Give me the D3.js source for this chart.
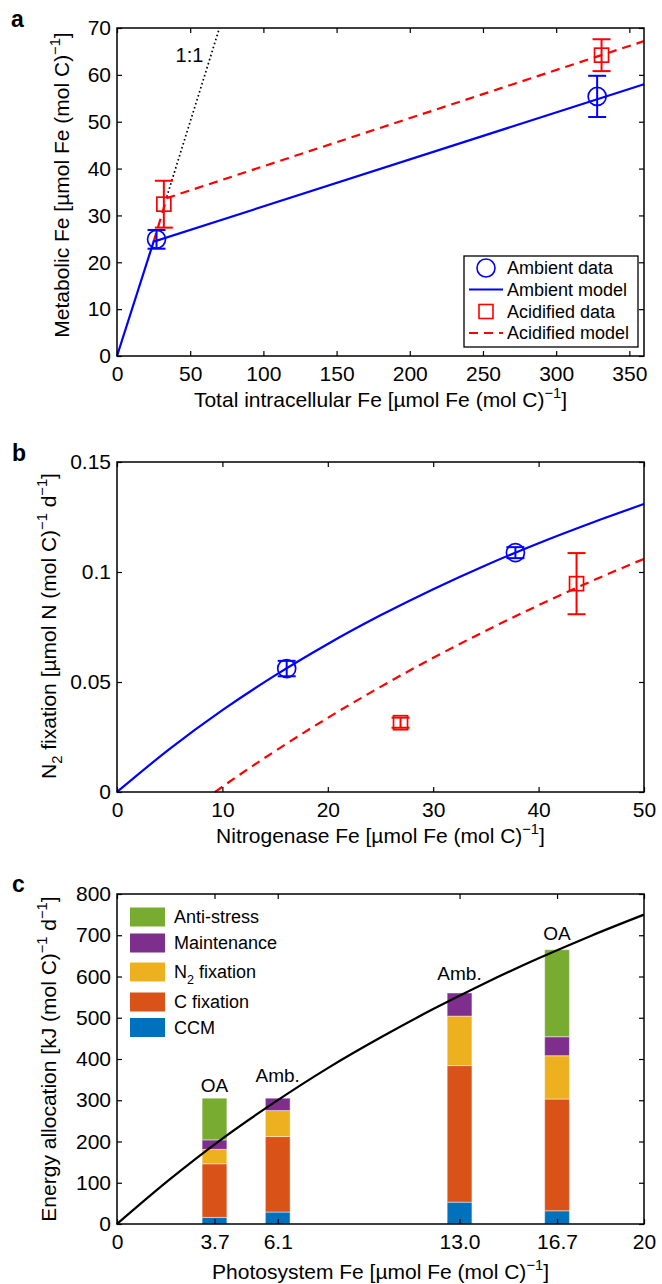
<!DOCTYPE html>
<html lang="en">
<head>
<meta charset="utf-8">
<script src="https://cdn.jsdelivr.net/npm/d3@7"></script>
<style>
  body { margin: 0; background: #fff; }
  svg { display: block; font-family: "Liberation Sans", Arial, sans-serif; }
</style>
</head>
<body>
<script>
// ---- panel a : metabolic vs total Fe ----
const totalFeAmb = [27, 328]
const metabFeAmb = [24.9, 55.4]
const metabFeAmbErr = [2.0, 4.4]
const totalFeAcid = [32, 331]
const metabFeAcid = [32.4, 64.2]
const metabFeAcidErr = [5.0, 3.4]
const ambModelA = [[0, 0], [25, 24.4], [360, 58]]
const acidModelA = [[25, 24.4], [34, 33.7], [360, 67.2]]
const oneToOne = [[34, 34], [70, 70]]

// ---- panel b : N2 fixation vs nitrogenase Fe ----
const nitroFeAmb = [16.1, 37.8]
const n2fixAmb = [0.0561, 0.1088]
const n2fixAmbErr = [0.0035, 0.0025]
const nitroFeAcid = [26.9, 43.6]
const n2fixAcid = [0.0315, 0.0947]
const n2fixAcidErr = [0.0023, 0.0139]
const ambCurveX = [0, 5, 10, 15, 20, 25, 30, 35, 40, 45, 50]
const ambCurveY = [0, 0.0196, 0.0372, 0.053, 0.0673, 0.0803, 0.0922, 0.1031, 0.1131, 0.1223, 0.1309]
const acidCurveX = [9.3, 10, 15, 20, 25, 30, 35, 40, 45, 50]
const acidCurveY = [0, 0.0024, 0.0186, 0.0337, 0.0478, 0.061, 0.0733, 0.0849, 0.0958, 0.106]

// ---- panel c : energy allocation vs photosystem Fe ----
const psFe = [3.7, 6.1, 13.0, 16.7]
const treatment = ['OA', 'Amb.', 'Amb.', 'OA']
const treatmentLabelY = [337, 361, 607, 705]
const ccm = [16, 29, 53, 32]
const cFix = [130, 183, 331, 271]
const n2Fix = [35, 63, 120, 105]
const maint = [23, 30, 56, 46]
const antiStress = [101, 0, 0, 211]
const supplyX = [0, 2, 4, 6, 8, 10, 12, 14, 16, 18, 20]
const supplyY = [0, 108, 207, 296, 378, 452, 521, 585, 644, 699, 750]
const psTicks = [0, 3.7, 6.1, 13.0, 16.7, 20]
const psTickLabels = ['0', '3.7', '6.1', '13.0', '16.7', '20']

const components = ['CCM', 'C fixation', 'N2 fixation', 'Maintenance', 'Anti-stress']
const compColors = ['#0072BD', '#D95319', '#EDB120', '#7E2F8E', '#77AC30']

const W = 662, H = 1284
const left = 117, right = 644
const TICK = 21, LABEL = 21, LEG = 18

const svg = d3.select('body').append('svg')
  .attr('width', W).attr('height', H)
svg.append('rect').attr('width', W).attr('height', H).attr('fill', '#fff')

// text with super/subscripts: parts = [[string, 'sup'|'sub'|null], ...]
function richText(sel, parts, size) {
  let shift = 0
  parts.forEach(function(p) {
    const ts = sel.append('tspan').text(p[0])
    let target = 0
    if (p[1] === 'sup') { target = -0.42 * size; ts.attr('font-size', size * 0.7) }
    if (p[1] === 'sub') { target = 0.3 * size; ts.attr('font-size', size * 0.7) }
    if (target !== shift) ts.attr('dy', target - shift)
    shift = target
  })
  return sel
}

function frame(x, y, xt, yt, xf, yf) {
  const y0 = y.range()[0], y1 = y.range()[1]
  const g = svg.append('g')
  g.append('g').attr('transform', 'translate(0,' + y0 + ')')
    .call(d3.axisBottom(x).tickValues(xt).tickSizeInner(-5).tickSizeOuter(0).tickPadding(10).tickFormat(xf))
  g.append('g').attr('transform', 'translate(0,' + y1 + ')')
    .call(d3.axisTop(x).tickValues(xt).tickSizeInner(-5).tickSizeOuter(0).tickFormat(''))
  g.append('g').attr('transform', 'translate(' + left + ',0)')
    .call(d3.axisLeft(y).tickValues(yt).tickSizeInner(-5).tickSizeOuter(0).tickPadding(6).tickFormat(yf))
  g.append('g').attr('transform', 'translate(' + right + ',0)')
    .call(d3.axisRight(y).tickValues(yt).tickSizeInner(-5).tickSizeOuter(0).tickFormat(''))
  g.selectAll('.domain').remove()
  g.selectAll('.tick line').attr('stroke', '#000').attr('stroke-width', 1.2)
  g.selectAll('.tick text').attr('font-size', TICK).attr('font-family', '"Liberation Sans", Arial, sans-serif').attr('fill', '#000')
  g.append('rect').attr('x', left).attr('y', y1)
    .attr('width', right - left).attr('height', y0 - y1)
    .attr('fill', 'none').attr('stroke', '#000').attr('stroke-width', 1.5)
  return g
}

function xLabel(yPos, parts) {
  richText(svg.append('text').attr('x', (left + right) / 2).attr('y', yPos)
    .attr('text-anchor', 'middle').attr('font-size', LABEL), parts, LABEL)
}
function yLabel(xPos, yMid, parts) {
  richText(svg.append('text').attr('transform', 'translate(' + xPos + ',' + yMid + ') rotate(-90)')
    .attr('text-anchor', 'middle').attr('font-size', LABEL), parts, LABEL)
}
function panelLetter(x, y, s) {
  svg.append('text').attr('x', x).attr('y', y).attr('font-size', 23)
    .attr('font-weight', 'bold').text(s)
}

function errorBars(x, y, xs, ys, es, color) {
  const g = svg.append('g').attr('stroke', color).attr('stroke-width', 2).attr('fill', 'none')
  xs.forEach(function(v, i) {
    const cx = x(v), top = y(ys[i] + es[i]), bot = y(ys[i] - es[i])
    g.append('line').attr('x1', cx).attr('x2', cx).attr('y1', top).attr('y2', bot)
    g.append('line').attr('x1', cx - 9).attr('x2', cx + 9).attr('y1', top).attr('y2', top)
    g.append('line').attr('x1', cx - 9).attr('x2', cx + 9).attr('y1', bot).attr('y2', bot)
  })
}
function circles(x, y, xs, ys) {
  svg.append('g').selectAll('circle').data(xs).join('circle')
    .attr('cx', d => x(d)).attr('cy', (d, i) => y(ys[i])).attr('r', 9)
    .attr('fill', 'none').attr('stroke', '#0000FF').attr('stroke-width', 1.7)
}
function squares(x, y, xs, ys) {
  svg.append('g').selectAll('rect').data(xs).join('rect')
    .attr('x', d => x(d) - 7).attr('y', (d, i) => y(ys[i]) - 7)
    .attr('width', 14).attr('height', 14)
    .attr('fill', 'none').attr('stroke', '#FF0000').attr('stroke-width', 1.7)
}

// ================= panel a =================
const xA = d3.scaleLinear().domain([0, 360]).range([left, right])
const yA = d3.scaleLinear().domain([0, 70]).range([356, 28])
const lineA = d3.line().x(d => xA(d[0])).y(d => yA(d[1]))

svg.append('path').datum(oneToOne).attr('d', lineA)
  .attr('fill', 'none').attr('stroke', '#000').attr('stroke-width', 1.7).attr('stroke-dasharray', '1.6,2.6')
svg.append('text').attr('x', xA(49.5)).attr('y', yA(64.2)).attr('dy', '0.35em')
  .attr('text-anchor', 'middle').attr('font-size', 20).text('1:1')

svg.append('path').datum(acidModelA).attr('d', lineA)
  .attr('fill', 'none').attr('stroke', '#FF0000').attr('stroke-width', 2.2).attr('stroke-dasharray', '9,6')
errorBars(xA, yA, totalFeAcid, metabFeAcid, metabFeAcidErr, '#FF0000')
squares(xA, yA, totalFeAcid, metabFeAcid)
svg.append('path').datum(ambModelA).attr('d', lineA)
  .attr('fill', 'none').attr('stroke', '#0000FF').attr('stroke-width', 2.2)
errorBars(xA, yA, totalFeAmb, metabFeAmb, metabFeAmbErr, '#0000FF')
circles(xA, yA, totalFeAmb, metabFeAmb)

frame(xA, yA, d3.range(0, 351, 50), d3.range(0, 71, 10), d3.format('d'), d3.format('d'))

// legend a
const legA = svg.append('g')
legA.append('rect').attr('x', 464).attr('y', 256).attr('width', 174).attr('height', 91)
  .attr('fill', '#fff').attr('stroke', '#000').attr('stroke-width', 1.3)
const legRows = [268, 289.5, 311.5, 333]
legA.append('circle').attr('cx', 486).attr('cy', legRows[0]).attr('r', 9)
  .attr('fill', 'none').attr('stroke', '#0000FF').attr('stroke-width', 1.6)
legA.append('line').attr('x1', 469).attr('x2', 503).attr('y1', legRows[1]).attr('y2', legRows[1])
  .attr('stroke', '#0000FF').attr('stroke-width', 2.2)
legA.append('rect').attr('x', 479).attr('y', legRows[2] - 7).attr('width', 14).attr('height', 14)
  .attr('fill', 'none').attr('stroke', '#FF0000').attr('stroke-width', 1.6)
legA.append('line').attr('x1', 469).attr('x2', 503).attr('y1', legRows[3]).attr('y2', legRows[3])
  .attr('stroke', '#FF0000').attr('stroke-width', 2.2).attr('stroke-dasharray', '9,6')
const legNamesA = ['Ambient data', 'Ambient model', 'Acidified data', 'Acidified model']
legA.selectAll('text.l').data(legNamesA).join('text')
  .attr('x', 507).attr('y', (d, i) => legRows[i]).attr('dy', '0.35em')
  .attr('font-size', LEG).text(d => d)

panelLetter(11, 27, 'a')
xLabel(407, [['Total intracellular Fe [\u00b5mol Fe (mol C)', null], ['\u22121', 'sup'], [']', null]])
yLabel(69, 185, [['Metabolic Fe [\u00b5mol Fe (mol C)', null], ['\u22121', 'sup'], [']', null]])

// ================= panel b =================
const xB = d3.scaleLinear().domain([0, 50]).range([left, right])
const yB = d3.scaleLinear().domain([0, 0.15]).range([792, 462])
const lineB = d3.line().x(d => xB(d[0])).y(d => yB(d[1])).curve(d3.curveMonotoneX)

svg.append('path').datum(acidCurveX.map((v, i) => [v, acidCurveY[i]])).attr('d', lineB)
  .attr('fill', 'none').attr('stroke', '#FF0000').attr('stroke-width', 2.2).attr('stroke-dasharray', '9,6')
svg.append('path').datum(ambCurveX.map((v, i) => [v, ambCurveY[i]])).attr('d', lineB)
  .attr('fill', 'none').attr('stroke', '#0000FF').attr('stroke-width', 2.2)
errorBars(xB, yB, nitroFeAcid, n2fixAcid, n2fixAcidErr, '#FF0000')
squares(xB, yB, nitroFeAcid, n2fixAcid)
errorBars(xB, yB, nitroFeAmb, n2fixAmb, n2fixAmbErr, '#0000FF')
circles(xB, yB, nitroFeAmb, n2fixAmb)

frame(xB, yB, d3.range(0, 51, 10), [0, 0.05, 0.1, 0.15], d3.format('d'), d => d === 0 ? '0' : String(d))

panelLetter(12, 461, 'b')
xLabel(843, [['Nitrogenase Fe [\u00b5mol Fe (mol C)', null], ['\u22121', 'sup'], [']', null]])
yLabel(56, 626, [['N', null], ['2', 'sub'], [' fixation [\u00b5mol N (mol C)', null], ['\u22121', 'sup'], [' d', null], ['\u22121', 'sup'], [']', null]])

// ================= panel c =================
const xC = d3.scaleLinear().domain([0, 20]).range([left, right])
const yC = d3.scaleLinear().domain([0, 800]).range([1224, 894])

const table = psFe.map(function(v, i) {
  return { x: v, 'CCM': ccm[i], 'C fixation': cFix[i], 'N2 fixation': n2Fix[i],
           'Maintenance': maint[i], 'Anti-stress': antiStress[i] }
})
const stacked = d3.stack().keys(components)(table)
const halfW = 0.47

svg.append('g').selectAll('g').data(stacked).join('g')
  .attr('fill', (d, i) => compColors[i])
  .selectAll('rect').data(d => d).join('rect')
  .attr('x', d => xC(d.data.x - halfW))
  .attr('width', xC(halfW * 2) - xC(0))
  .attr('y', d => yC(d[1]))
  .attr('height', d => yC(d[0]) - yC(d[1]))
  .attr('stroke', 'rgba(255,255,255,0.45)').attr('stroke-width', 1)

svg.append('path').datum(supplyX.map((v, i) => [v, supplyY[i]]))
  .attr('d', d3.line().x(d => xC(d[0])).y(d => yC(d[1])).curve(d3.curveMonotoneX))
  .attr('fill', 'none').attr('stroke', '#000').attr('stroke-width', 2.2)

svg.append('g').selectAll('text').data(treatment).join('text')
  .attr('x', (d, i) => xC(psFe[i])).attr('y', (d, i) => yC(treatmentLabelY[i]))
  .attr('dy', '0.35em').attr('text-anchor', 'middle').attr('font-size', 19).text(d => d)

frame(xC, yC, psTicks, d3.range(0, 801, 100), (d, i) => psTickLabels[i], d3.format('d'))

// legend c (top to bottom reversed stack order)
const legC = svg.append('g')
const legRowsC = [917, 943, 972, 1002, 1027.5]
const legOrder = [4, 3, 2, 1, 0]
legOrder.forEach(function(k, r) {
  legC.append('rect').attr('x', 130).attr('y', legRowsC[r] - 9.5).attr('width', 35).attr('height', 19)
    .attr('fill', compColors[k])
  const t = legC.append('text').attr('x', 174).attr('y', legRowsC[r]).attr('dy', '0.35em').attr('font-size', LEG)
  if (components[k] === 'N2 fixation') richText(t, [['N', null], ['2', 'sub'], [' fixation', null]], LEG)
  else t.text(components[k])
})

panelLetter(12, 892, 'c')
xLabel(1279, [['Photosystem Fe [\u00b5mol Fe (mol C)', null], ['\u22121', 'sup'], [']', null]])
yLabel(56, 1059, [['Energy allocation [kJ (mol C)', null], ['\u22121', 'sup'], [' d', null], ['\u22121', 'sup'], [']', null]])
</script>
</body>
</html>
